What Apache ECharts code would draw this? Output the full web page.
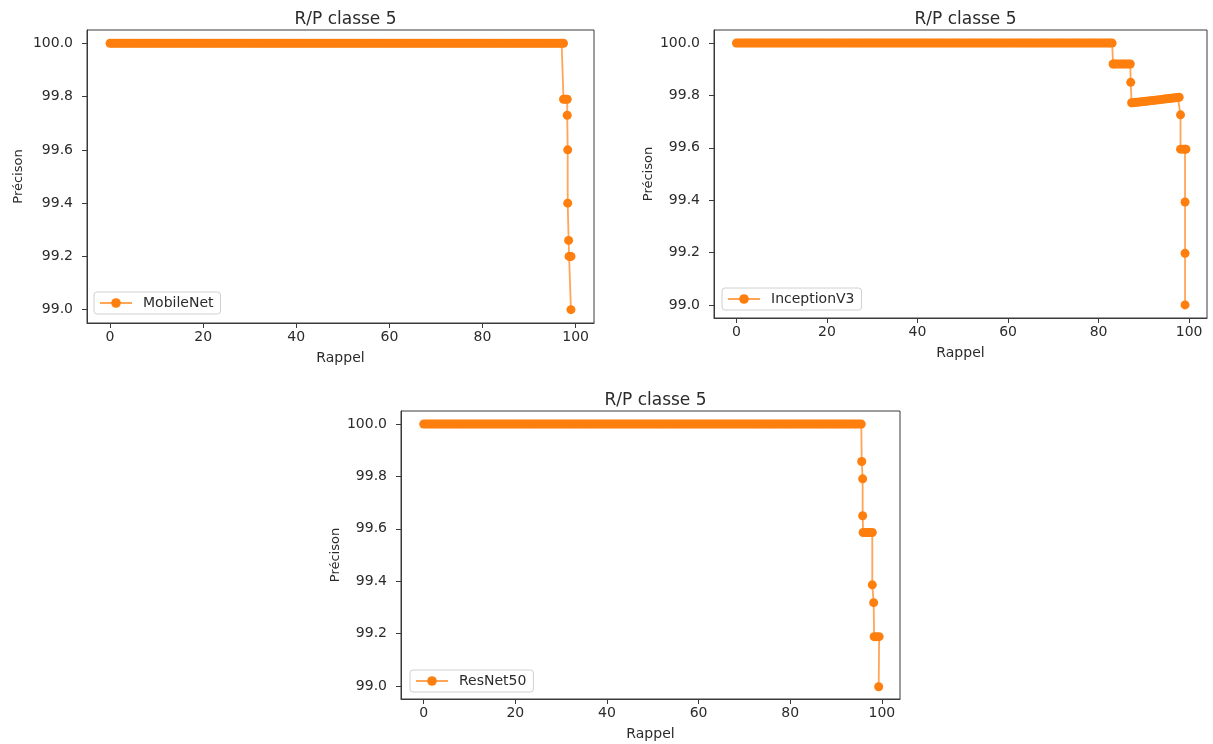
<!DOCTYPE html>
<html>
<head>
<meta charset="utf-8">
<script src="https://cdn.jsdelivr.net/npm/echarts@6/dist/echarts.min.js"></script>
<style>
  html, body { margin: 0; padding: 0; background: #fff; }
  #chart { width: 1213px; height: 744px; }
</style>
</head>
<body>
<div id="chart"></div>
<script>
// Tick labels shared by the three panels
const xTicks = [0, 20, 40, 60, 80, 100];
const yTicks = [99.0, 99.2, 99.4, 99.6, 99.8, 100.0];
const panelTitle = 'R/P classe 5';
const modelNames = ['MobileNet', 'InceptionV3', 'ResNet50'];

// MobileNet: recall (%) and precision (%)
const mobileRecall = [
  0, 0.5, 1, 1.5, 2, 2.5, 3, 3.5, 4, 4.5, 5, 5.5, 6, 6.5, 7, 7.5, 8, 8.5, 9, 9.5,
  10, 10.5, 11, 11.5, 12, 12.5, 13, 13.5, 14, 14.5, 15, 15.5, 16, 16.5, 17, 17.5, 18, 18.5, 19, 19.5,
  20, 20.5, 21, 21.5, 22, 22.5, 23, 23.5, 24, 24.5, 25, 25.5, 26, 26.5, 27, 27.5, 28, 28.5, 29, 29.5,
  30, 30.5, 31, 31.5, 32, 32.5, 33, 33.5, 34, 34.5, 35, 35.5, 36, 36.5, 37, 37.5, 38, 38.5, 39, 39.5,
  40, 40.5, 41, 41.5, 42, 42.5, 43, 43.5, 44, 44.5, 45, 45.5, 46, 46.5, 47, 47.5, 48, 48.5, 49, 49.5,
  50, 50.5, 51, 51.5, 52, 52.5, 53, 53.5, 54, 54.5, 55, 55.5, 56, 56.5, 57, 57.5, 58, 58.5, 59, 59.5,
  60, 60.5, 61, 61.5, 62, 62.5, 63, 63.5, 64, 64.5, 65, 65.5, 66, 66.5, 67, 67.5, 68, 68.5, 69, 69.5,
  70, 70.5, 71, 71.5, 72, 72.5, 73, 73.5, 74, 74.5, 75, 75.5, 76, 76.5, 77, 77.5, 78, 78.5, 79, 79.5,
  80, 80.5, 81, 81.5, 82, 82.5, 83, 83.5, 84, 84.5, 85, 85.5, 86, 86.5, 87, 87.5, 88, 88.5, 89, 89.5,
  90, 90.5, 91, 91.5, 92, 92.5, 93, 93.5, 94, 94.5, 95, 95.5, 96, 96.5, 97, 97.4,
  97.4, 97.8, 98.2, 98.2, 98.3, 98.3, 98.5, 98.6, 98.8, 99.0, 99.0
];
const mobilePrecision = [
  100, 100, 100, 100, 100, 100, 100, 100, 100, 100, 100, 100, 100, 100, 100, 100, 100, 100, 100, 100,
  100, 100, 100, 100, 100, 100, 100, 100, 100, 100, 100, 100, 100, 100, 100, 100, 100, 100, 100, 100,
  100, 100, 100, 100, 100, 100, 100, 100, 100, 100, 100, 100, 100, 100, 100, 100, 100, 100, 100, 100,
  100, 100, 100, 100, 100, 100, 100, 100, 100, 100, 100, 100, 100, 100, 100, 100, 100, 100, 100, 100,
  100, 100, 100, 100, 100, 100, 100, 100, 100, 100, 100, 100, 100, 100, 100, 100, 100, 100, 100, 100,
  100, 100, 100, 100, 100, 100, 100, 100, 100, 100, 100, 100, 100, 100, 100, 100, 100, 100, 100, 100,
  100, 100, 100, 100, 100, 100, 100, 100, 100, 100, 100, 100, 100, 100, 100, 100, 100, 100, 100, 100,
  100, 100, 100, 100, 100, 100, 100, 100, 100, 100, 100, 100, 100, 100, 100, 100, 100, 100, 100, 100,
  100, 100, 100, 100, 100, 100, 100, 100, 100, 100, 100, 100, 100, 100, 100, 100, 100, 100, 100, 100,
  100, 100, 100, 100, 100, 100, 100, 100, 100, 100, 100, 100, 100, 100, 100, 100,
  99.79, 99.79, 99.79, 99.73, 99.6, 99.4, 99.26, 99.2, 99.2, 99.2, 99.0
];

// InceptionV3: recall (%) and precision (%)
const inceptionRecall = [
  0, 0.5, 1, 1.5, 2, 2.5, 3, 3.5, 4, 4.5, 5, 5.5, 6, 6.5, 7, 7.5, 8, 8.5, 9, 9.5,
  10, 10.5, 11, 11.5, 12, 12.5, 13, 13.5, 14, 14.5, 15, 15.5, 16, 16.5, 17, 17.5, 18, 18.5, 19, 19.5,
  20, 20.5, 21, 21.5, 22, 22.5, 23, 23.5, 24, 24.5, 25, 25.5, 26, 26.5, 27, 27.5, 28, 28.5, 29, 29.5,
  30, 30.5, 31, 31.5, 32, 32.5, 33, 33.5, 34, 34.5, 35, 35.5, 36, 36.5, 37, 37.5, 38, 38.5, 39, 39.5,
  40, 40.5, 41, 41.5, 42, 42.5, 43, 43.5, 44, 44.5, 45, 45.5, 46, 46.5, 47, 47.5, 48, 48.5, 49, 49.5,
  50, 50.5, 51, 51.5, 52, 52.5, 53, 53.5, 54, 54.5, 55, 55.5, 56, 56.5, 57, 57.5, 58, 58.5, 59, 59.5,
  60, 60.5, 61, 61.5, 62, 62.5, 63, 63.5, 64, 64.5, 65, 65.5, 66, 66.5, 67, 67.5, 68, 68.5, 69, 69.5,
  70, 70.5, 71, 71.5, 72, 72.5, 73, 73.5, 74, 74.5, 75, 75.5, 76, 76.5, 77, 77.5, 78, 78.5, 79, 79.5,
  80, 80.5, 81, 81.5, 82, 82.5, 83,
  83.2, 83.5, 84, 84.5, 85, 85.5, 86, 86.5, 87, 87.1,
  87.3, 87.5, 88, 88.5, 89, 89.5, 90, 90.5, 91, 91.5, 92, 92.5, 93, 93.5, 94, 94.5, 95, 95.5,
  96, 96.5, 97, 97.5, 97.8,
  98.1, 98.1, 98.6, 99.1, 99.3, 99.1, 99.1, 99.1
];
const inceptionPrecision = [
  100, 100, 100, 100, 100, 100, 100, 100, 100, 100, 100, 100, 100, 100, 100, 100, 100, 100, 100, 100,
  100, 100, 100, 100, 100, 100, 100, 100, 100, 100, 100, 100, 100, 100, 100, 100, 100, 100, 100, 100,
  100, 100, 100, 100, 100, 100, 100, 100, 100, 100, 100, 100, 100, 100, 100, 100, 100, 100, 100, 100,
  100, 100, 100, 100, 100, 100, 100, 100, 100, 100, 100, 100, 100, 100, 100, 100, 100, 100, 100, 100,
  100, 100, 100, 100, 100, 100, 100, 100, 100, 100, 100, 100, 100, 100, 100, 100, 100, 100, 100, 100,
  100, 100, 100, 100, 100, 100, 100, 100, 100, 100, 100, 100, 100, 100, 100, 100, 100, 100, 100, 100,
  100, 100, 100, 100, 100, 100, 100, 100, 100, 100, 100, 100, 100, 100, 100, 100, 100, 100, 100, 100,
  100, 100, 100, 100, 100, 100, 100, 100, 100, 100, 100, 100, 100, 100, 100, 100, 100, 100, 100, 100,
  100, 100, 100, 100, 100, 100, 100,
  99.92, 99.92, 99.92, 99.92, 99.92, 99.92, 99.92, 99.92, 99.92, 99.85,
  99.772, 99.772, 99.773, 99.774, 99.775, 99.776, 99.777, 99.778, 99.779, 99.780, 99.781, 99.782,
  99.783, 99.784, 99.785, 99.786, 99.787, 99.788, 99.789, 99.790, 99.791, 99.792, 99.793,
  99.726, 99.595, 99.595, 99.595, 99.595, 99.393, 99.197, 99.0
];

// ResNet50: recall (%) and precision (%)
const resnetRecall = [
  0, 0.5, 1, 1.5, 2, 2.5, 3, 3.5, 4, 4.5, 5, 5.5, 6, 6.5, 7, 7.5, 8, 8.5, 9, 9.5,
  10, 10.5, 11, 11.5, 12, 12.5, 13, 13.5, 14, 14.5, 15, 15.5, 16, 16.5, 17, 17.5, 18, 18.5, 19, 19.5,
  20, 20.5, 21, 21.5, 22, 22.5, 23, 23.5, 24, 24.5, 25, 25.5, 26, 26.5, 27, 27.5, 28, 28.5, 29, 29.5,
  30, 30.5, 31, 31.5, 32, 32.5, 33, 33.5, 34, 34.5, 35, 35.5, 36, 36.5, 37, 37.5, 38, 38.5, 39, 39.5,
  40, 40.5, 41, 41.5, 42, 42.5, 43, 43.5, 44, 44.5, 45, 45.5, 46, 46.5, 47, 47.5, 48, 48.5, 49, 49.5,
  50, 50.5, 51, 51.5, 52, 52.5, 53, 53.5, 54, 54.5, 55, 55.5, 56, 56.5, 57, 57.5, 58, 58.5, 59, 59.5,
  60, 60.5, 61, 61.5, 62, 62.5, 63, 63.5, 64, 64.5, 65, 65.5, 66, 66.5, 67, 67.5, 68, 68.5, 69, 69.5,
  70, 70.5, 71, 71.5, 72, 72.5, 73, 73.5, 74, 74.5, 75, 75.5, 76, 76.5, 77, 77.5, 78, 78.5, 79, 79.5,
  80, 80.5, 81, 81.5, 82, 82.5, 83, 83.5, 84, 84.5, 85, 85.5, 86, 86.5, 87, 87.5, 88, 88.5, 89, 89.5,
  90, 90.5, 91, 91.5, 92, 92.5, 93, 93.5, 94, 94.5, 95, 95.5,
  95.6, 95.8, 95.8, 95.9, 96.4, 96.9, 97.4, 97.9, 97.9, 98.2, 98.3, 98.8, 99.4, 99.3
];
const resnetPrecision = [
  100, 100, 100, 100, 100, 100, 100, 100, 100, 100, 100, 100, 100, 100, 100, 100, 100, 100, 100, 100,
  100, 100, 100, 100, 100, 100, 100, 100, 100, 100, 100, 100, 100, 100, 100, 100, 100, 100, 100, 100,
  100, 100, 100, 100, 100, 100, 100, 100, 100, 100, 100, 100, 100, 100, 100, 100, 100, 100, 100, 100,
  100, 100, 100, 100, 100, 100, 100, 100, 100, 100, 100, 100, 100, 100, 100, 100, 100, 100, 100, 100,
  100, 100, 100, 100, 100, 100, 100, 100, 100, 100, 100, 100, 100, 100, 100, 100, 100, 100, 100, 100,
  100, 100, 100, 100, 100, 100, 100, 100, 100, 100, 100, 100, 100, 100, 100, 100, 100, 100, 100, 100,
  100, 100, 100, 100, 100, 100, 100, 100, 100, 100, 100, 100, 100, 100, 100, 100, 100, 100, 100, 100,
  100, 100, 100, 100, 100, 100, 100, 100, 100, 100, 100, 100, 100, 100, 100, 100, 100, 100, 100, 100,
  100, 100, 100, 100, 100, 100, 100, 100, 100, 100, 100, 100, 100, 100, 100, 100, 100, 100, 100, 100,
  100, 100, 100, 100, 100, 100, 100, 100, 100, 100, 100, 100,
  99.857, 99.791, 99.65, 99.586, 99.586, 99.586, 99.586, 99.586, 99.386, 99.318, 99.188, 99.188, 99.188, 98.997
];

const FONT = 'DejaVu Sans';
const TEXT = '#2b2b2b';
const AXIS = '#3a3a3a';
const ORANGE = '#ff7f0e';

function pairs(xs, ys) {
  return xs.map((x, i) => [x, ys[i]]);
}

// Panel frames in pixels
const panels = [
  { left: 87, top: 30, width: 507, height: 293, yNameGap: 62 },
  { left: 714, top: 30, width: 493, height: 288, yNameGap: 59 },
  { left: 401, top: 411, width: 499, height: 288, yNameGap: 59 }
];

const legendPos = [
  { left: 94, top: 292 },
  { left: 722, top: 288 },
  { left: 410, top: 670 }
];

const seriesData = [
  pairs(mobileRecall, mobilePrecision),
  pairs(inceptionRecall, inceptionPrecision),
  pairs(resnetRecall, resnetPrecision)
];

const option = {
  animation: false,
  backgroundColor: '#fff',
  title: panels.map(p => ({
    text: panelTitle,
    left: p.left + p.width / 2,
    top: p.top - 24,
    textAlign: 'center',
    textStyle: { fontFamily: FONT, fontSize: 17, fontWeight: 'normal', color: TEXT }
  })),
  legend: legendPos.map((l, i) => ({
    data: [modelNames[i]],
    left: l.left,
    top: l.top,
    orient: 'vertical',
    itemWidth: 32,
    itemHeight: 12,
    padding: [4, 7, 4, 5],
    borderColor: '#d0d0d0',
    borderWidth: 1,
    borderRadius: 3,
    backgroundColor: 'rgba(255,255,255,0.8)',
    textStyle: { fontFamily: FONT, fontSize: 14, color: TEXT, padding: [0, 0, 0, 6] }
  })),
  grid: panels.map(p => ({
    left: p.left, top: p.top, width: p.width, height: p.height,
    show: true, borderColor: AXIS, borderWidth: 1, backgroundColor: '#fff'
  })),
  xAxis: panels.map((p, i) => ({
    type: 'value',
    gridIndex: i,
    min: -4.95,
    max: 103.95,
    name: 'Rappel',
    nameLocation: 'middle',
    nameGap: 28,
    nameTextStyle: { fontFamily: FONT, fontSize: 14, color: TEXT },
    axisLine: { show: true, onZero: false, lineStyle: { color: AXIS, width: 1 } },
    axisTick: { show: true, length: 5, customValues: xTicks, lineStyle: { color: AXIS } },
    axisLabel: { customValues: xTicks, margin: 7, fontFamily: FONT, fontSize: 14, color: TEXT },
    splitLine: { show: false }
  })),
  yAxis: panels.map((p, i) => ({
    type: 'value',
    gridIndex: i,
    min: 98.95,
    max: 100.05,
    name: 'Précison',
    nameLocation: 'middle',
    nameGap: p.yNameGap,
    nameRotate: 90,
    nameTextStyle: { fontFamily: FONT, fontSize: 13, color: TEXT },
    axisLine: { show: true, onZero: false, lineStyle: { color: AXIS, width: 1 } },
    axisTick: { show: true, length: 5, customValues: yTicks, lineStyle: { color: AXIS } },
    axisLabel: {
      customValues: yTicks, margin: 14, fontFamily: FONT, fontSize: 14, color: TEXT,
      formatter: v => Number(v).toFixed(1)
    },
    splitLine: { show: false }
  })),
  series: seriesData.map((d, i) => ({
    name: modelNames[i],
    type: 'line',
    xAxisIndex: i,
    yAxisIndex: i,
    data: d,
    symbol: 'circle',
    symbolSize: 9,
    showAllSymbol: true,
    itemStyle: { color: ORANGE },
    lineStyle: { color: ORANGE, width: 1.8, opacity: 0.7 }
  }))
};

const chart = echarts.init(document.getElementById('chart'), null, { renderer: 'canvas' });
chart.setOption(option);
</script>
</body>
</html>
